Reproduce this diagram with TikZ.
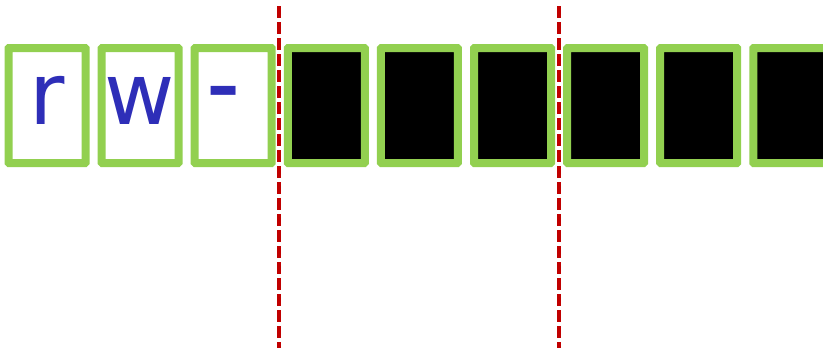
\documentclass[tikz,border=0pt]{standalone}
\usepackage{fontspec}
\usepackage{graphicx}
\setmainfont{DejaVu Sans}
\usetikzlibrary{positioning}
\definecolor{cellgreen}{HTML}{92D050}
\definecolor{letterblue}{HTML}{2E2EB8}
\definecolor{splitred}{HTML}{C00000}
\tikzset{
  cell/.style={draw=cellgreen,line width=8pt,rounded corners=0.6pt,minimum width=77pt,minimum height=115pt,inner sep=0pt},
  permcell/.style={cell,fill=white,text=letterblue,font=\fontsize{86}{86}\selectfont,text height=38pt,text depth=0pt},
  datacell/.style={cell,fill=black},
  splitline/.style={splitred,line width=4pt,dash pattern=on 12pt off 4pt}
}
\begin{document}
\begin{tikzpicture}[x=1pt,y=-1pt]
  \useasboundingbox (0,0) rectangle (823,348);
  \node[permcell] (c1) at (47,105.5) {r};
  \node[permcell] (c2) at (140.1,105.5) {w};
  \node[permcell] (c3) at (233.2,105.5) {\kern-20pt\raisebox{3pt}{\scalebox{1.1}[1.3]{-}}};
  \foreach \i in {4,...,9}
    \node[datacell] (c\i) at ({47+93.1*(\i-1)},105.5) {};
  % split markers
  \coordinate (s1top) at (279,6);
  \coordinate (s1bot) at (279,348);
  \coordinate (s2top) at (559,6);
  \coordinate (s2bot) at (559,348);
  \draw[splitline] (s1top) -- (s1bot);
  \draw[splitline] (s2top) -- (s2bot);
\end{tikzpicture}
\end{document}
